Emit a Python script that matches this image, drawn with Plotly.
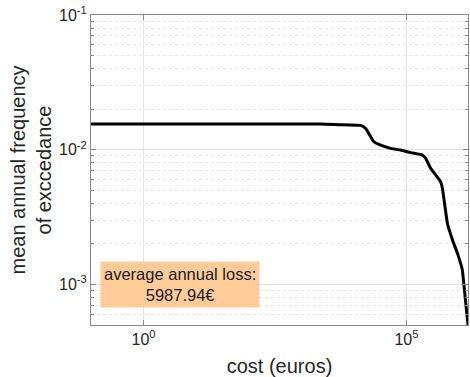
import plotly.graph_objects as go
import numpy as np

# data (cost in euros, mean annual frequency of exceedance)
cost = [0.1, 2320, 5010, 13400, 16700, 24000, 29900, 50000, 77600, 120000, 200000,
        232000, 288000, 447000, 484000, 603000, 750000, 933000, 1150000, 1230000, 1480000]
freq = [0.0155, 0.0155, 0.01535, 0.01515, 0.01442, 0.01146, 0.01096, 0.01023, 0.00995,
        0.00951, 0.00914, 0.00863, 0.00728, 0.00578, 0.00513, 0.00282, 0.00214, 0.0017,
        0.00129, 0.00102, 0.0005]

x_tickvals = [1, 1e5]
x_ticktext = ["10<sup>0</sup>", "10<sup>5</sup>"]
y_tickvals = [1e-3, 1e-2, 1e-1]
y_ticktext = ["10<sup>-3</sup>", "10<sup>-2</sup>", "10<sup>-1</sup>"]
y_minor = [m * 10.0 ** e for e in (-4, -3, -2) for m in range(2, 10)]

aal_text = "average annual loss:<br>5987.94€"

font = "Liberation Sans, Arial, Helvetica, sans-serif"
axis_col = "#8a8a8a"

fig = go.Figure()
fig.add_trace(go.Scatter(x=cost, y=freq, mode="lines",
                         line=dict(color="black", width=3, shape="spline", smoothing=0.4),
                         showlegend=False))

fig.update_layout(
    width=470, height=377,
    margin=dict(l=91, r=2, t=15, b=52),
    paper_bgcolor="white", plot_bgcolor="white",
    font=dict(family=font, color="#262626", size=16),
    xaxis=dict(
        type="log", range=[np.log10(0.1), np.log10(1.48e6)],
        tickvals=x_tickvals, ticktext=x_ticktext,
        showgrid=True, gridcolor="#e3e3e3", gridwidth=1,
        showline=True, linecolor=axis_col, linewidth=1, mirror="ticks",
        ticks="inside", ticklen=5, tickcolor=axis_col,
        tickfont=dict(size=16, color="#262626"),
        title=dict(text="cost (euros)", font=dict(size=20, color="#262626"), standoff=11),
        zeroline=False,
    ),
    yaxis=dict(
        type="log", range=[np.log10(5e-4), -1],
        tickvals=y_tickvals, ticktext=y_ticktext,
        showgrid=True, gridcolor="#e3e3e3", gridwidth=1,
        showline=True, linecolor=axis_col, linewidth=1, mirror="ticks",
        ticks="inside", ticklen=5, tickcolor=axis_col,
        tickfont=dict(size=16, color="#262626"),
        minor=dict(tickvals=y_minor, showgrid=True, gridcolor="#e6e6e6",
                   griddash="dot", ticks="inside", ticklen=3, tickcolor=axis_col),
        title=dict(text="mean annual frequency<br>of exccedance",
                   font=dict(size=20, color="#262626"), standoff=2),
        zeroline=False,
    ),
)

fig.add_annotation(
    xref="paper", yref="paper", x=0.237, y=0.132,
    xanchor="center", yanchor="middle",
    text=aal_text, showarrow=False,
    font=dict(size=16.5, color="#1a1a1a", family=font),
    bgcolor="#FFCC99", borderpad=3, align="center",
)

fig.write_html("out.html")
